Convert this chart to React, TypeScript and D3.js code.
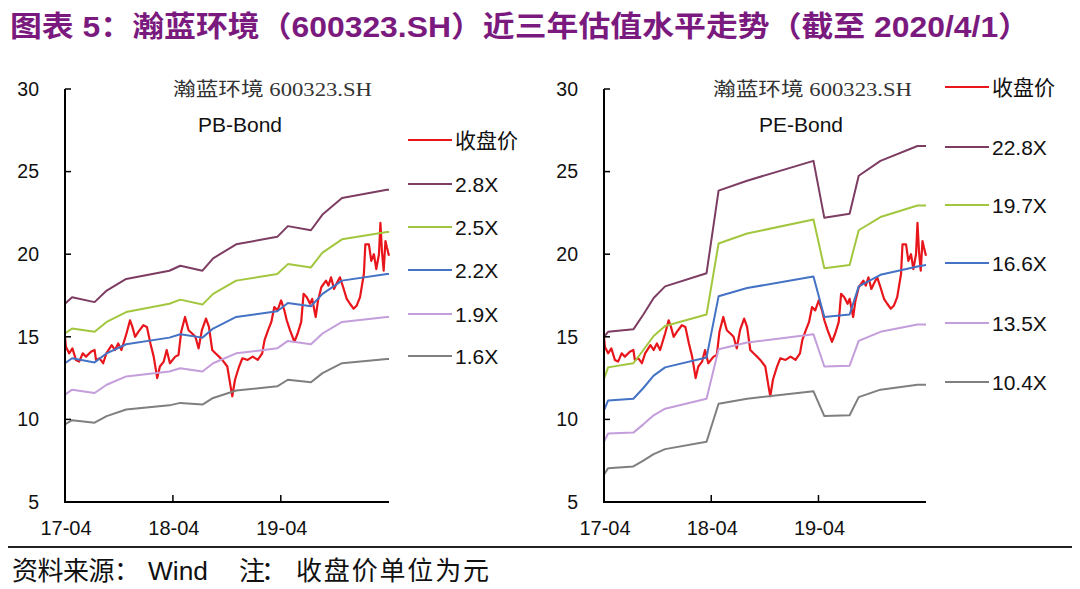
import React from "react";
import * as d3 from "d3";

const closeDates = [
  "2017-04-01","2017-04-04","2017-04-15","2017-04-26","2017-05-08","2017-05-19","2017-05-31","2017-06-11","2017-06-28","2017-07-10",
  "2017-07-15","2017-07-27","2017-08-08","2017-08-19","2017-09-06","2017-09-17","2017-09-28","2017-10-09","2017-10-26","2017-11-07",
  "2017-11-15","2017-11-24","2017-12-05","2017-12-22","2018-01-03","2018-01-15","2018-01-26","2018-02-07","2018-02-16","2018-03-01",
  "2018-03-11","2018-03-22","2018-04-09","2018-04-20","2018-04-29","2018-05-12","2018-05-24","2018-06-05","2018-06-16","2018-06-27",
  "2018-07-08","2018-07-22","2018-08-01","2018-08-12","2018-08-23","2018-09-04","2018-09-15","2018-10-02","2018-10-13","2018-10-19",
  "2018-10-28","2018-11-11","2018-11-22","2018-12-10","2018-12-27","2019-01-13","2019-01-28","2019-02-05","2019-02-17","2019-02-28",
  "2019-03-10","2019-03-21","2019-04-02","2019-04-13","2019-04-21","2019-05-02","2019-05-17","2019-05-28","2019-06-09","2019-06-17",
  "2019-06-28","2019-07-09","2019-07-16","2019-07-28","2019-08-05","2019-08-16","2019-09-01","2019-09-09","2019-09-18","2019-09-28",
  "2019-10-09","2019-10-18","2019-10-29","2019-11-10","2019-11-21","2019-12-03","2019-12-14","2019-12-25","2020-01-07","2020-01-12",
  "2020-01-24","2020-02-01","2020-02-10","2020-02-18","2020-02-27","2020-03-03","2020-03-08","2020-03-14","2020-03-20","2020-03-25",
  "2020-04-01"
];
const closePrice = [
  15.0, 14.4, 14.0, 14.3, 13.6, 13.5, 14.0, 13.8, 14.1, 14.2,
  13.6, 13.7, 13.4, 14.0, 14.5, 14.2, 14.6, 14.2, 15.2, 16.0,
  15.6, 15.0, 15.3, 15.7, 15.6, 14.6, 13.8, 12.5, 13.2, 13.5,
  14.2, 13.4, 13.8, 13.9, 15.3, 16.2, 15.4, 15.2, 15.0, 14.3,
  15.4, 16.1, 15.6, 14.2, 14.0, 13.8, 13.6, 13.2, 12.0, 11.4,
  12.4, 13.2, 13.7, 13.6, 13.8, 13.6, 14.0, 14.8, 15.4, 15.9,
  16.8, 16.6, 17.2, 16.6, 16.0, 15.4, 14.7, 15.2, 15.9, 17.6,
  17.4, 17.0, 17.3, 16.2, 17.2, 18.0, 18.4, 18.1, 18.6, 17.9,
  18.3, 18.6, 18.0, 17.3, 17.0, 16.7, 16.9, 17.4, 18.8, 20.6,
  20.6, 19.6, 20.0, 19.1, 20.0, 21.9, 20.2, 19.0, 20.8, 20.4,
  19.9
];

const pbDates = [
  "2017-04-01","2017-04-25","2017-07-10","2017-08-20","2017-10-25","2018-03-20","2018-04-26","2018-07-10","2018-08-15",
  "2018-11-01","2019-03-20","2019-04-25","2019-07-12","2019-08-20","2019-10-25","2020-03-25","2020-04-01"
];
const pb28 = [17.0, 17.4, 17.1, 17.8, 18.5, 19.0, 19.3, 19.0, 19.75, 20.6, 21.05, 21.7, 21.45, 22.4, 23.4, 23.9, 23.9];
const pb25 = [15.2, 15.5, 15.3, 15.9, 16.5, 17.0, 17.25, 16.95, 17.6, 18.4, 18.8, 19.4, 19.2, 20.1, 20.9, 21.35, 21.35];
const pb22 = [13.4, 13.7, 13.45, 14.0, 14.55, 14.95, 15.15, 14.95, 15.5, 16.2, 16.55, 17.05, 16.85, 17.6, 18.4, 18.8, 18.8];
const pb19 = [11.5, 11.8, 11.6, 12.1, 12.6, 12.9, 13.1, 12.9, 13.4, 14.0, 14.3, 14.75, 14.55, 15.2, 15.9, 16.2, 16.2];
const pb16 = [9.7, 9.95, 9.8, 10.2, 10.6, 10.85, 11.0, 10.9, 11.3, 11.75, 12.0, 12.4, 12.25, 12.8, 13.4, 13.65, 13.65];

const peDates = [
  "2017-04-01","2017-04-15","2017-07-10","2017-08-13","2017-09-17","2017-10-26","2018-03-16","2018-04-26","2018-08-01",
  "2019-03-15","2019-04-21","2019-07-16","2019-08-16","2019-10-29","2020-03-03","2020-04-01"
];
const pe228 = [15.0, 15.3, 15.45, 16.35, 17.35, 18.05, 18.85, 23.85, 24.45, 25.65, 22.2, 22.45, 24.75, 25.65, 26.55, 26.55];
const pe197 = [12.45, 13.15, 13.4, 14.2, 15.05, 15.65, 16.35, 20.65, 21.25, 22.1, 19.15, 19.35, 21.45, 22.25, 22.95, 22.95];
const pe166 = [10.55, 11.15, 11.25, 11.9, 12.65, 13.15, 13.75, 17.45, 17.95, 18.65, 16.2, 16.35, 18.05, 18.75, 19.25, 19.35];
const pe135 = [8.65, 9.15, 9.2, 9.7, 10.25, 10.65, 11.25, 14.25, 14.65, 15.15, 13.2, 13.25, 14.75, 15.3, 15.75, 15.75];
const pe104 = [6.65, 7.05, 7.15, 7.5, 7.9, 8.2, 8.65, 10.95, 11.25, 11.7, 10.2, 10.25, 11.35, 11.8, 12.1, 12.1];

const yTickValues = [5, 10, 15, 20, 25, 30];
const xTickDates = ["2017-04-01", "2018-04-01", "2019-04-01"];
const xTickLabels = ["17-04", "18-04", "19-04"];
const pbLegend = ["收盘价", "2.8X", "2.5X", "2.2X", "1.9X", "1.6X"];
const peLegend = ["收盘价", "22.8X", "19.7X", "16.6X", "13.5X", "10.4X"];
const seriesColors = ["#E8151B", "#7D3C62", "#A2C73F", "#4472C4", "#C49DDB", "#7F7F7F"];

const parse = d3.timeParse("%Y-%m-%d");
const SANS = "'Liberation Sans', Arial, 'Noto Sans CJK SC', sans-serif";
const CJK = "'Noto Sans CJK SC', 'Liberation Sans', sans-serif";

type PanelProps = {
  left: number;
  right: number;
  dates: string[];
  bands: number[][];
  subtitle: string;
  subtitleX: number;
  headerX: number;
  legend: string[];
  legendX: number;
  legendYs: number[];
};

function Panel(p: PanelProps) {
  const x = d3
    .scaleTime()
    .domain([parse("2017-04-01") as Date, parse("2020-04-01") as Date])
    .range([p.left, p.right]);
  const y = d3.scaleLinear().domain([5, 30]).range([502, 89]);
  const line = d3
    .line<[Date, number]>()
    .x((d) => x(d[0]))
    .y((d) => y(d[1]));
  const closePts: [Date, number][] = closeDates.map((d, i) => [parse(d) as Date, closePrice[i]]);
  const bandDates = p.dates.map((d) => parse(d) as Date);
  const [y0, y1] = y.range();
  return (
    <g>
      <text x={p.headerX} y={96} fontFamily="'Liberation Serif', 'Noto Sans CJK SC', serif" fontSize={19} fill="#333" textLength={199} lengthAdjust="spacingAndGlyphs">
        瀚蓝环境 600323.SH
      </text>
      <text x={p.subtitleX} y={132} fontFamily={SANS} fontSize={21} fill="#111" textAnchor="middle">
        {p.subtitle}
      </text>
      <path d={line(closePts) || ""} fill="none" stroke={seriesColors[0]} strokeWidth={2.2} strokeLinejoin="round" />
      {p.bands.map((vals, k) => {
        const pts: [Date, number][] = bandDates.map((d, i) => [d, vals[i]]);
        return <path key={k} d={line(pts) || ""} fill="none" stroke={seriesColors[k + 1]} strokeWidth={2} strokeLinejoin="round" />;
      })}
      <line x1={p.left} x2={p.left} y1={y1} y2={y0 + 1} stroke="#000" strokeWidth={2} />
      <line x1={p.left - 1} x2={p.right} y1={y0} y2={y0} stroke="#000" strokeWidth={2} />
      {yTickValues.map((v) => (
        <g key={v}>
          <line x1={p.left} x2={p.left + 6} y1={y(v)} y2={y(v)} stroke="#000" strokeWidth={1.5} />
          <text x={p.left - 26} y={y(v)} dy="0.35em" textAnchor="end" fontFamily={SANS} fontSize={19.5} fill="#111">
            {v}
          </text>
        </g>
      ))}
      {xTickDates.map((d, i) => {
        const xx = x(parse(d) as Date);
        return (
          <g key={d}>
            <line x1={xx} x2={xx} y1={y0} y2={y0 - 7} stroke="#000" strokeWidth={1.5} />
            <text x={xx + 1} y={535} textAnchor="middle" fontFamily={SANS} fontSize={20} fill="#111">
              {xTickLabels[i]}
            </text>
          </g>
        );
      })}
      {p.legend.map((t, i) => (
        <g key={t}>
          <line x1={p.legendX} x2={p.legendX + 44} y1={p.legendYs[i]} y2={p.legendYs[i]} stroke={seriesColors[i]} strokeWidth={2} />
          <text x={p.legendX + 47} y={p.legendYs[i]} dy="0.36em" fontFamily={i === 0 ? CJK : SANS} fontSize={21} fill="#111">
            {t}
          </text>
        </g>
      ))}
    </g>
  );
}

export default function App() {
  return (
    <div style={{ position: "absolute", left: 0, top: 0 }}>
      <svg width={1080} height={589} style={{ display: "block", background: "#fff" }}>
        <rect width={1080} height={589} fill="#fff" />
        <text x={10} y={37} fontFamily={SANS} fontWeight="bold" fontSize={29} fill="#7B1A7E" textLength={1020} lengthAdjust="spacingAndGlyphs">
          图表 5：瀚蓝环境（600323.SH）近三年估值水平走势（截至 2020/4/1）
        </text>
        <Panel
          left={65}
          right={389}
          dates={pbDates}
          bands={[pb28, pb25, pb22, pb19, pb16]}
          subtitle="PB-Bond"
          subtitleX={240}
          headerX={173}
          legend={pbLegend}
          legendX={408}
          legendYs={[140, 184, 227, 270, 314, 356]}
        />
        <Panel
          left={604}
          right={926}
          dates={peDates}
          bands={[pe228, pe197, pe166, pe135, pe104]}
          subtitle="PE-Bond"
          subtitleX={801}
          headerX={713}
          legend={peLegend}
          legendX={945}
          legendYs={[87, 147, 205, 263, 323, 382]}
        />
        <line x1={8} x2={1072} y1={547} y2={547} stroke="#222" strokeWidth={2} />
        <text y={580} fontFamily={CJK} fontSize={26} fill="#111">
          <tspan x={12} textLength={128} lengthAdjust="spacing">资料来源：</tspan>
          <tspan x={148} fontFamily={SANS} fontSize={26} textLength={60} lengthAdjust="spacingAndGlyphs">Wind</tspan>
          <tspan x={239} textLength={48} lengthAdjust="spacing">注：</tspan>
          <tspan x={296} textLength={193} lengthAdjust="spacing">收盘价单位为元</tspan>
        </text>
      </svg>
    </div>
  );
}
